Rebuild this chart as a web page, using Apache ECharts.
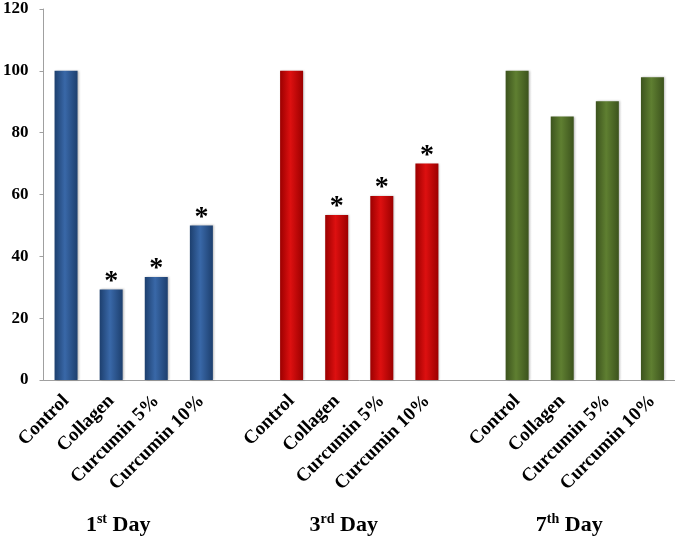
<!DOCTYPE html>
<html>
<head>
<meta charset="utf-8">
<script src="https://cdn.jsdelivr.net/npm/echarts@6/dist/echarts.min.js"></script>
<style>html,body{margin:0;padding:0;background:#fff}#c{width:675px;height:544px}</style>
</head>
<body>
<div id="c"></div>
<script>
// ---- data ----
var treatments = ['Control', 'Collagen', 'Curcumin 5%', 'Curcumin 10%'];
var dayNames = ['1st Day', '3rd Day', '7th Day'];
var dayOrdinal = ['1', '3', '7'];
var daySuffix = ['st', 'rd', 'th'];
var day1Values = [100, 29.3, 33.3, 50];
var day3Values = [100, 53.4, 59.5, 70];
var day7Values = [100, 85.2, 90.2, 97.9];
var day1Significant = [false, true, true, true];
var day3Significant = [false, true, true, true];
var day7Significant = [false, false, false, false];
var yTicks = [0, 20, 40, 60, 80, 100, 120];

var allValues = [day1Values, day3Values, day7Values];
var allSig = [day1Significant, day3Significant, day7Significant];
var palette = [
  ['#1d3f6e', '#3968a8'],
  ['#9c0000', '#dd1010'],
  ['#3c531d', '#5f7f31']
];

// category slots: 4 bars, 1 empty gap, 4 bars, 1 empty gap, 4 bars
var categories = [];
var groupLabelCats = [];
for (var g = 0; g < 3; g++) {
  for (var t = 0; t < treatments.length; t++) {
    categories.push(treatments[t]);
    groupLabelCats.push(t === 1 ? String(g) : '');
  }
  if (g < 2) { categories.push(''); groupLabelCats.push(''); }
}

function grad(c) {
  return new echarts.graphic.LinearGradient(0, 0, 1, 0, [
    {offset: 0, color: c[0]}, {offset: 0.45, color: c[1]}, {offset: 1, color: c[0]}
  ]);
}

var series = [];
for (var g = 0; g < 3; g++) {
  var data = [];
  for (var gg = 0; gg < 3; gg++) {
    for (var t = 0; t < treatments.length; t++) {
      if (gg === g) {
        data.push({
          value: allValues[g][t],
          label: {show: allSig[g][t]}
        });
      } else {
        data.push(null);
      }
    }
    if (gg < 2) data.push(null);
  }
  series.push({
    type: 'bar',
    stack: 'all',
    barWidth: 23,
    data: data,
    itemStyle: {color: grad(palette[g]), shadowColor: 'rgba(0,0,0,0.25)', shadowBlur: 2, shadowOffsetX: 1},
    label: {
      show: false,
      position: 'top',
      distance: -6,
      formatter: '*',
      color: '#000',
      fontSize: 28,
      fontWeight: 'bold',
      fontFamily: 'Liberation Serif'
    }
  });
}

var chart = echarts.init(document.getElementById('c'), null, {renderer: 'canvas'});
chart.setOption({
  animation: false,
  backgroundColor: '#fff',
  grid: {left: 42, right: -4, top: 9, bottom: 164, containLabel: false},
  xAxis: [{
    type: 'category',
    data: categories,
    axisLine: {lineStyle: {color: '#a0a0a0', width: 1}},
    axisTick: {show: false},
    axisLabel: {
      interval: 0,
      rotate: 45,
      margin: 18,
      fontFamily: 'Liberation Serif',
      fontWeight: 'bold',
      fontSize: 19,
      color: '#000'
    }
  }, {
    type: 'category',
    data: groupLabelCats,
    position: 'bottom',
    offset: 128,
    axisLine: {show: false},
    axisTick: {show: false},
    axisLabel: {
      interval: 0,
      margin: 4,
      padding: [0, 0, 0, 14],
      formatter: function (v) {
        if (v === '') return '';
        var i = +v;
        return '{n|' + dayOrdinal[i] + '}{s|' + daySuffix[i] + '}{n| Day}';
      },
      rich: {
        n: {fontFamily: 'Liberation Serif', fontWeight: 'bold', fontSize: 22, color: '#000', verticalAlign: 'bottom', lineHeight: 24},
        s: {fontFamily: 'Liberation Serif', fontWeight: 'bold', fontSize: 14, color: '#000', verticalAlign: 'top', lineHeight: 24}
      }
    }
  }],
  yAxis: {
    type: 'value',
    min: yTicks[0],
    max: yTicks[yTicks.length - 1],
    interval: 20,
    splitLine: {show: false},
    axisLine: {show: true, lineStyle: {color: '#a0a0a0', width: 1}},
    axisTick: {show: true, length: 4, lineStyle: {color: '#a0a0a0'}},
    axisLabel: {
      margin: 15,
      fontFamily: 'Liberation Serif',
      fontWeight: 'bold',
      fontSize: 17,
      color: '#000'
    }
  },
  series: series
});
</script>
</body>
</html>
